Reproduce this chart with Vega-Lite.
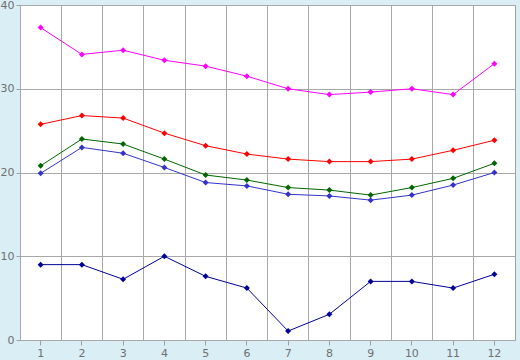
{
  "$schema": "https://vega.github.io/schema/vega-lite/v6.json",
  "width": 495,
  "height": 335,
  "autosize": {"type": "none"},
  "padding": {"left": 20, "top": 5, "right": 5, "bottom": 20},
  "background": "#DAEEF5",
  "config": {
    "view": {"fill": "#FFFFFF", "stroke": "#A0A0A0", "strokeWidth": 1},
    "axis": {
      "labelFont": "DejaVu Sans",
      "labelFontSize": 11,
      "labelColor": "#707070",
      "tickColor": "#A0A0A0",
      "domainColor": "#A0A0A0",
      "gridColor": "#A8A8A8",
      "gridOpacity": 1,
      "gridWidth": 1,
      "tickSize": 5,
      "title": null
    }
  },
  "data": {
    "values": [
      {"month": 1, "series": "A", "value": 37.3},
      {"month": 2, "series": "A", "value": 34.1},
      {"month": 3, "series": "A", "value": 34.6},
      {"month": 4, "series": "A", "value": 33.4},
      {"month": 5, "series": "A", "value": 32.7},
      {"month": 6, "series": "A", "value": 31.5},
      {"month": 7, "series": "A", "value": 30.0},
      {"month": 8, "series": "A", "value": 29.3},
      {"month": 9, "series": "A", "value": 29.6},
      {"month": 10, "series": "A", "value": 30.0},
      {"month": 11, "series": "A", "value": 29.3},
      {"month": 12, "series": "A", "value": 33.0},
      {"month": 1, "series": "B", "value": 25.75},
      {"month": 2, "series": "B", "value": 26.8},
      {"month": 3, "series": "B", "value": 26.5},
      {"month": 4, "series": "B", "value": 24.7},
      {"month": 5, "series": "B", "value": 23.2},
      {"month": 6, "series": "B", "value": 22.2},
      {"month": 7, "series": "B", "value": 21.6},
      {"month": 8, "series": "B", "value": 21.3},
      {"month": 9, "series": "B", "value": 21.3},
      {"month": 10, "series": "B", "value": 21.6},
      {"month": 11, "series": "B", "value": 22.65},
      {"month": 12, "series": "B", "value": 23.85},
      {"month": 1, "series": "C", "value": 20.8},
      {"month": 2, "series": "C", "value": 24.0},
      {"month": 3, "series": "C", "value": 23.4},
      {"month": 4, "series": "C", "value": 21.6},
      {"month": 5, "series": "C", "value": 19.7},
      {"month": 6, "series": "C", "value": 19.1},
      {"month": 7, "series": "C", "value": 18.2},
      {"month": 8, "series": "C", "value": 17.9},
      {"month": 9, "series": "C", "value": 17.3},
      {"month": 10, "series": "C", "value": 18.2},
      {"month": 11, "series": "C", "value": 19.3},
      {"month": 12, "series": "C", "value": 21.1},
      {"month": 1, "series": "D", "value": 19.9},
      {"month": 2, "series": "D", "value": 23.0},
      {"month": 3, "series": "D", "value": 22.3},
      {"month": 4, "series": "D", "value": 20.6},
      {"month": 5, "series": "D", "value": 18.8},
      {"month": 6, "series": "D", "value": 18.4},
      {"month": 7, "series": "D", "value": 17.4},
      {"month": 8, "series": "D", "value": 17.2},
      {"month": 9, "series": "D", "value": 16.7},
      {"month": 10, "series": "D", "value": 17.3},
      {"month": 11, "series": "D", "value": 18.5},
      {"month": 12, "series": "D", "value": 20.0},
      {"month": 1, "series": "E", "value": 9.0},
      {"month": 2, "series": "E", "value": 9.0},
      {"month": 3, "series": "E", "value": 7.25},
      {"month": 4, "series": "E", "value": 10.0},
      {"month": 5, "series": "E", "value": 7.6},
      {"month": 6, "series": "E", "value": 6.2},
      {"month": 7, "series": "E", "value": 1.07},
      {"month": 8, "series": "E", "value": 3.07},
      {"month": 9, "series": "E", "value": 7.0},
      {"month": 10, "series": "E", "value": 7.0},
      {"month": 11, "series": "E", "value": 6.2},
      {"month": 12, "series": "E", "value": 7.85}
    ]
  },
  "encoding": {
    "x": {
      "field": "month",
      "type": "ordinal",
      "scale": {"type": "band", "paddingInner": 0, "paddingOuter": 0},
      "axis": null
    },
    "y": {
      "field": "value",
      "type": "quantitative",
      "scale": {"domain": [0, 40], "nice": false, "zero": true},
      "axis": {
        "values": [0, 10, 20, 30, 40],
        "grid": true,
        "domain": false,
        "tickSize": 4,
        "labelPadding": 2
      }
    },
    "color": {
      "field": "series",
      "type": "nominal",
      "scale": {
        "domain": ["A", "B", "C", "D", "E"],
        "range": ["#FF00FF", "#FF0000", "#006600", "#3333CC", "#000099"]
      },
      "legend": null
    }
  },
  "layer": [
    {
      "mark": {"type": "line", "strokeWidth": 1, "opacity": 0},
      "encoding": {
        "x": {
          "field": "month",
          "type": "ordinal",
          "axis": {
            "orient": "bottom",
            "grid": true,
            "bandPosition": 0,
            "labels": false,
            "ticks": false,
            "domain": false
          }
        }
      }
    },
    {
      "mark": {"type": "line", "strokeWidth": 1, "interpolate": "linear"},
      "encoding": {
        "x": {
          "field": "month",
          "type": "ordinal",
          "axis": {
            "orient": "bottom",
            "grid": false,
            "labelAngle": 0,
            "labelPadding": 2,
            "domain": false,
            "tickSize": 5
          }
        }
      }
    },
    {
      "mark": {"type": "point", "shape": "diamond", "filled": true, "size": 36, "opacity": 1},
      "encoding": {}
    }
  ],
  "resolve": {"axis": {"x": "independent"}}
}
